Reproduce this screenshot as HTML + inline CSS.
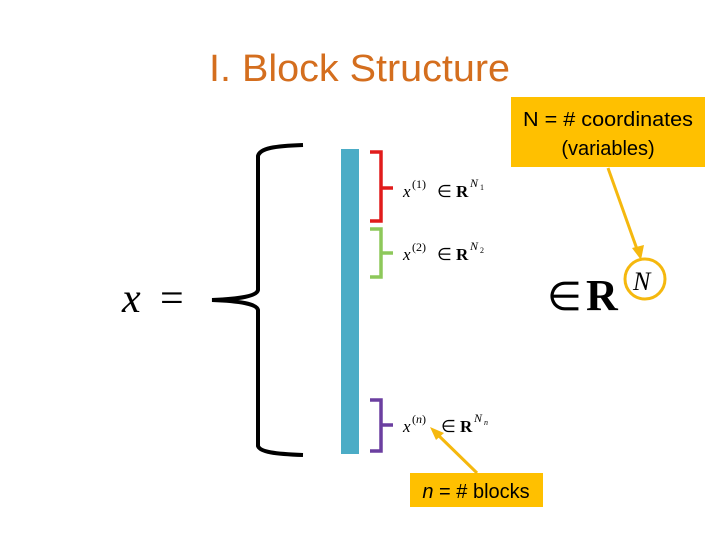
<!DOCTYPE html>
<html><head><meta charset="utf-8"><style>
html,body{margin:0;padding:0;background:#fff;}
svg{display:block;}
</style></head><body>
<svg width="720" height="540" viewBox="0 0 720 540" xmlns="http://www.w3.org/2000/svg">
<text x="209" y="81" font-family="Liberation Sans, sans-serif" font-size="38" fill="#D46E1E" textLength="301" lengthAdjust="spacingAndGlyphs">I. Block Structure</text>

<!-- x = -->
<text x="122" y="312" font-family="Liberation Serif, serif" font-style="italic" font-size="42" fill="#000">x</text>
<text x="160" y="312" font-family="Liberation Serif, serif" font-size="42" fill="#000">=</text>

<!-- big brace -->
<path d="M303,145 C275,146 260,148 258,156 L258,290 C257,296 240,299 212,300 C240,301 257,304 258,310 L258,446 C260,452 275,454 303,455" fill="none" stroke="#000" stroke-width="4"/>

<!-- blue bar -->
<rect x="341" y="149" width="18" height="305" fill="#4BACC6"/>

<!-- red bracket -->
<path d="M370,152 L381,152 L381,221 L370,221 M381,188 L393,188" fill="none" stroke="#E11B1B" stroke-width="3.5"/>
<!-- green bracket -->
<path d="M370,229 L381,229 L381,277 L370,277 M381,253 L393,253" fill="none" stroke="#8DC85A" stroke-width="3.5"/>
<!-- purple bracket -->
<path d="M370,400 L381,400 L381,451 L370,451 M381,425 L393,425" fill="none" stroke="#6B3FA0" stroke-width="3.5"/>

<g font-family="Liberation Serif, serif" fill="#000">
<text x="403" y="197" font-size="17" font-style="italic">x</text>
<text x="412" y="188" font-size="12">(1)</text>
<text x="437" y="197" font-size="17">∈</text>
<text x="456" y="197" font-size="17" font-weight="bold">R</text>
<text x="470" y="187" font-size="12" font-style="italic">N</text><text x="480" y="190" font-size="8">1</text>

<text x="403" y="260" font-size="17" font-style="italic">x</text>
<text x="412" y="251" font-size="12">(2)</text>
<text x="437" y="260" font-size="17">∈</text>
<text x="456" y="260" font-size="17" font-weight="bold">R</text>
<text x="470" y="250" font-size="12" font-style="italic">N</text><text x="480" y="253" font-size="8">2</text>

<text x="403" y="432" font-size="17" font-style="italic">x</text>
<text x="412" y="423" font-size="12">(<tspan font-style="italic">n</tspan>)</text>
<text x="441" y="432" font-size="17">∈</text>
<text x="460" y="432" font-size="17" font-weight="bold">R</text>
<text x="474" y="422" font-size="12" font-style="italic">N</text><text x="484" y="425" font-size="8" font-style="italic">n</text>

<text x="547" y="310" font-size="40">∈</text>
<text x="586" y="310" font-size="44" font-weight="bold">R</text>
<text x="633" y="290" font-size="26" font-style="italic">N</text>
</g>

<!-- N box -->
<rect x="511" y="97" width="194" height="70" fill="#FFC000"/>
<text x="608" y="126" text-anchor="middle" font-family="Liberation Sans, sans-serif" font-size="20" fill="#000" textLength="170" lengthAdjust="spacingAndGlyphs">N = # coordinates</text>
<text x="608" y="155" text-anchor="middle" font-family="Liberation Sans, sans-serif" font-size="20" fill="#000">(variables)</text>
<line x1="608" y1="168" x2="638" y2="252" stroke="#F5B80E" stroke-width="3"/>
<path d="M632,248 L641,260 L644,245 Z" fill="#F5B80E"/>
<circle cx="645" cy="279" r="20" fill="none" stroke="#F5B80E" stroke-width="3"/>

<!-- n box -->
<rect x="410" y="473" width="133" height="34" fill="#FFC000"/>
<text x="476" y="498" text-anchor="middle" font-family="Liberation Sans, sans-serif" font-size="20" fill="#000"><tspan font-style="italic">n</tspan> = # blocks</text>
<line x1="477" y1="473" x2="436" y2="433" stroke="#F5B80E" stroke-width="3"/>
<path d="M430,427 L444,433 L436,440 Z" fill="#F5B80E"/>
</svg>
</body></html>
